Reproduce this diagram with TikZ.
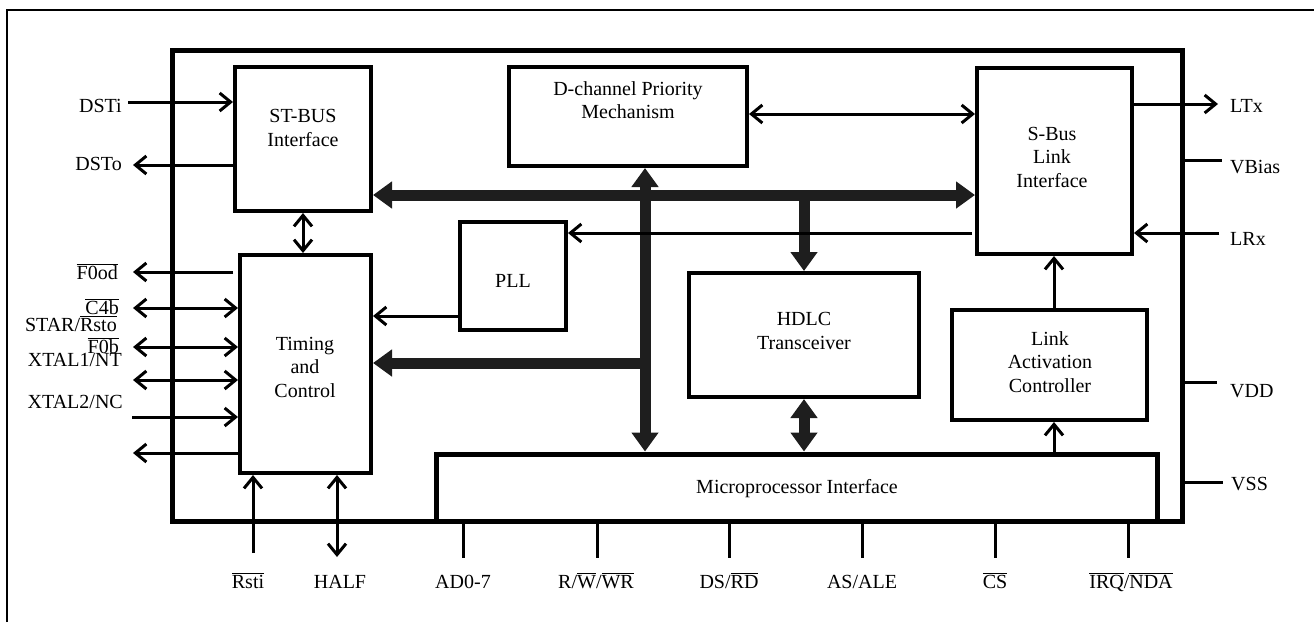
\documentclass[tikz,border=0pt]{standalone}
\usepackage{fontspec}
\setmainfont{Liberation Serif}
\usetikzlibrary{arrows.meta}
\newcommand{\ovl}[1]{\ensuremath{\overline{\mbox{#1}}}}
\definecolor{buscol}{HTML}{1E1E1E}
\begin{document}
\begin{tikzpicture}[x=1pt,y=-1pt,
  font=\fontsize{20}{23.5}\selectfont,
  box/.style={draw,line width=4pt,inner sep=0pt},
  chipbox/.style={draw,line width=5pt,inner sep=0pt},
  txt/.style={align=center,inner sep=0pt},
  lbl/.style={inner sep=0pt},
  sig/.style={line width=3pt,>={Straight Barb[length=11pt,width=18pt]}},
  bus/.style={line width=11pt,draw=buscol,>={Triangle[length=19pt,width=26pt]}}]
\useasboundingbox (0,0) rectangle (1314,622);
% outer frame
\draw[line width=2pt] (7,622) -- (7,10) -- (1314,10);
% chip and blocks
\node[chipbox,minimum width=1010pt,minimum height=471pt] (chip) at (677,285.5) {};
\node[box,minimum width=136pt,minimum height=144pt] (stbus) at (303,139) {};
\node[box,minimum width=131pt,minimum height=218pt] (timing) at (305.5,364) {};
\node[box,minimum width=106pt,minimum height=108pt] (pll) at (513,276) {};
\node[box,minimum width=238pt,minimum height=99pt] (dch) at (628,116.5) {};
\node[box,minimum width=230pt,minimum height=124pt] (hdlc) at (804,335) {};
\node[box,minimum width=155pt,minimum height=186pt] (sbus) at (1054.5,161) {};
\node[box,minimum width=195pt,minimum height=110pt] (link) at (1049.5,365) {};
\node[chipbox,minimum width=721pt,minimum height=67pt] (micro) at (796.5,487.5) {};
% block texts
\node[txt] (stbus-t) at (303,128) {ST-BUS\\Interface};
\node[txt] (timing-t) at (305,367) {Timing\\and\\Control};
\node[txt] (pll-t) at (513,281) {PLL};
\node[txt] (dch-t) at (628,100) {D-channel Priority\\Mechanism};
\node[txt] (hdlc-t) at (804,331) {HDLC\\Transceiver};
\node[txt] (sbus-t) at (1052,157) {S-Bus\\Link\\Interface};
\node[txt] (link-t) at (1050,362) {Link\\Activation\\Controller};
\node[txt] (micro-t) at (797,489) {Microprocessor Interface};
% buses
\coordinate (hb) at (0,195);
\coordinate (vx) at (645,0);
\coordinate (lb) at (650,363);
\draw[bus,<->] (stbus.east |- hb) -- (sbus.west |- hb);
\draw[bus,<->] (dch.south -| vx) -- (micro.north -| vx);
\draw[bus,->] (lb) -- (timing.east |- lb);
\draw[bus,->] (hdlc.north |- hb) -- (hdlc.north);
\draw[bus,<->] (hdlc.south) -- (hdlc.south |- micro.north);
% internal signals
\coordinate (dy) at (0,114);
\coordinate (ry) at (972,233);
\coordinate (py) at (0,316);
\coordinate (ax) at (1054,0);
\draw[sig,<->] (stbus.south) -- (stbus.south |- timing.north);
\draw[sig,<->] (dch.east |- dy) -- (sbus.west |- dy);
\draw[sig,->] (ry) -- (pll.east |- ry);
\draw[sig,->] (pll.west |- py) -- (timing.east |- py);
\draw[sig,->] (link.north -| ax) -- (sbus.south -| ax);
\draw[sig,->] (micro.north -| ax) -- (link.south -| ax);
% left pins
\coordinate (p1) at (128,102);
\coordinate (p2) at (133,165);
\coordinate (p3) at (133,272);
\coordinate (p3s) at (233,272);
\coordinate (p4) at (133,308);
\coordinate (p5) at (133,347);
\coordinate (p6) at (133,380);
\coordinate (p7) at (132,417);
\coordinate (p8) at (133,453);
\draw[sig,->] (p1) -- (p1 -| stbus.west);
\draw[sig,->] (p2 -| stbus.west) -- (p2);
\draw[sig,->] (p3s) -- (p3);
\draw[sig,<->] (p4) -- (p4 -| timing.west);
\draw[sig,<->] (p5) -- (p5 -| timing.west);
\draw[sig,<->] (p6) -- (p6 -| timing.west);
\draw[sig,->] (p7) -- (p7 -| timing.west);
\draw[sig,->] (p8 -| timing.west) -- (p8);
\node[lbl,anchor=base east] (l-dsti) at (122,112) {DSTi};
\node[lbl,anchor=base east] (l-dsto) at (122,170) {DSTo};
\node[lbl,anchor=base east] (l-f0od) at (118,279) {\ovl{F0od}};
\node[lbl,anchor=base east] (l-c4b) at (119,314) {\ovl{C4b}};
\node[lbl,anchor=base east] (l-star) at (117,331) {STAR/\ovl{Rsto}};
\node[lbl,anchor=base east] (l-f0b) at (119,353) {\ovl{F0b}};
\node[lbl,anchor=base east] (l-xt1) at (122,366) {XTAL1/NT};
\node[lbl,anchor=base east] (l-xt2) at (123,408) {XTAL2/NC};
% bottom pins
\coordinate (b1) at (253,553);
\coordinate (b2) at (337,557);
\draw[sig,->] (b1) -- (timing.south -| b1);
\draw[sig,<->] (timing.south -| b2) -- (b2);
\foreach \n/\x in {b3/463,b4/597,b5/729,b6/862,b7/995,b8/1128}{
  \coordinate (\n) at (\x,558);
  \draw[line width=3pt] (chip.south -| \n) -- (\n);
}
\node[lbl,anchor=base] (l-rsti) at (248,588) {\ovl{Rsti}};
\node[lbl,anchor=base] (l-half) at (340,588) {HALF};
\node[lbl,anchor=base] (l-ad) at (463,588) {AD0-7};
\node[lbl,anchor=base] (l-rw) at (596,588) {R/\ovl{W}/\ovl{WR}};
\node[lbl,anchor=base] (l-ds) at (729,588) {DS/\ovl{RD}};
\node[lbl,anchor=base] (l-as) at (862,588) {AS/ALE};
\node[lbl,anchor=base] (l-cs) at (995,588) {\ovl{CS}};
\node[lbl,anchor=base] (l-irq) at (1131,588) {\ovl{IRQ}/\ovl{NDA}};
% right pins
\coordinate (r1) at (1218,104);
\coordinate (r2) at (1222,160);
\coordinate (r3) at (1219,233);
\coordinate (r4) at (1217,382);
\coordinate (r5) at (1223,482);
\draw[sig,->] (r1 -| sbus.east) -- (r1);
\draw[line width=3pt] (r2 -| chip.east) -- (r2);
\draw[sig,->] (r3) -- (r3 -| sbus.east);
\draw[line width=3pt] (r4 -| chip.east) -- (r4);
\draw[line width=3pt] (r5 -| chip.east) -- (r5);
\node[lbl,anchor=base west] (l-ltx) at (1230,112) {LTx};
\node[lbl,anchor=base west] (l-vb) at (1230,173) {VBias};
\node[lbl,anchor=base west] (l-lrx) at (1230,245) {LRx};
\node[lbl,anchor=base west] (l-vdd) at (1230,397) {VDD};
\node[lbl,anchor=base west] (l-vss) at (1231,490) {VSS};
\end{tikzpicture}
\end{document}
